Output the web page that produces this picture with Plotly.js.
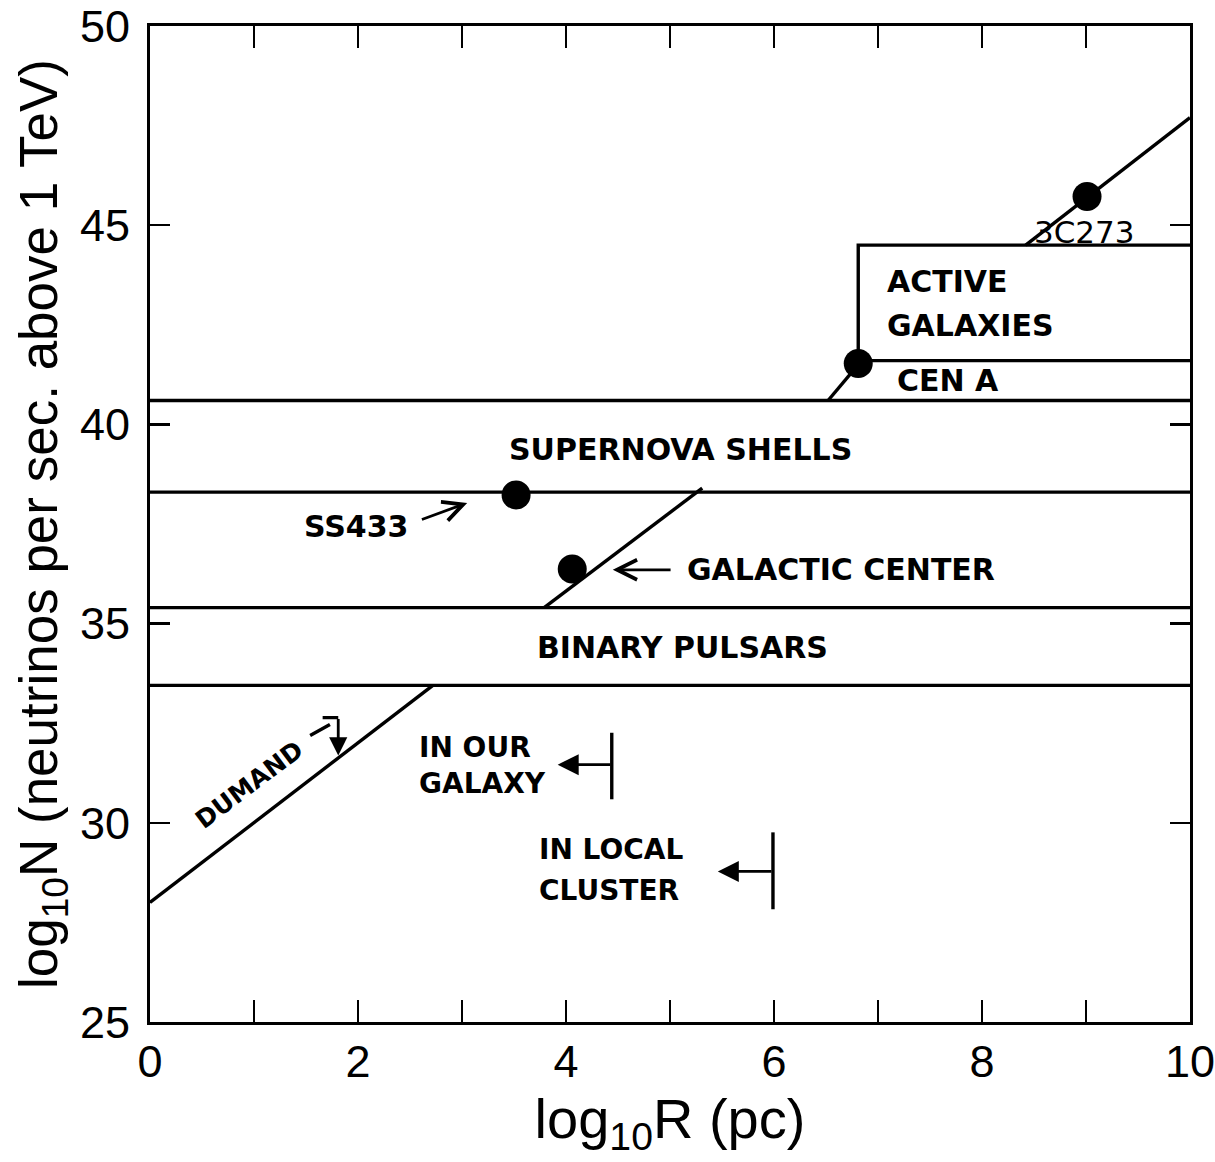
<!DOCTYPE html>
<html>
<head>
<meta charset="utf-8">
<script src="https://cdn.plot.ly/plotly-3.0.1.min.js"></script>
<style>
  html, body { margin: 0; padding: 0; background: #fff; }
  #chart { width: 1215px; height: 1162px; }
</style>
</head>
<body>
<div id="chart"></div>
<script>
// Flux bands (log10 N) that separate the source classes
const bandLevels = [33.45, 35.4, 38.3, 40.6];

// Active-galaxy box (log10 R, log10 N) drawn against the right axis
const agBoxR = [10, 6.81, 6.81, 10];
const agBoxN = [44.5, 44.5, 41.6, 41.6];

// DUMAND sensitivity line, broken where it crosses the labelled bands
const dumandR = [0, 2.72, null, 3.79, 5.31, null, 6.52, 6.82, null, 8.42, 10];
const dumandN = [28.0, 33.45, null, 35.4, 38.4, null, 40.6, 41.53, null, 44.5, 47.7];

// Individual sources
const sourceNames = ["SS433", "Galactic Center", "Cen A", "3C273"];
const sourceR = [3.52, 4.06, 6.81, 9.01];
const sourceN = [38.23, 36.37, 41.53, 45.72];

// Distance limits: our galaxy and the local cluster
const limitLines = [["IN OUR", "GALAXY"], ["IN LOCAL", "CLUSTER"]];
const limitR = [4.44, 5.99];

// Axis ticks
const xTickVals = [0, 2, 4, 6, 8, 10];
const yTickVals = [25, 30, 35, 40, 45, 50];

const INK = "#000";
const LW = 3.4;
const labelFont = { family: "DejaVu Sans, sans-serif", size: 30, color: INK, weight: 700 };
const limitFont = Object.assign({}, labelFont, { size: 28 });

const traces = [];

// horizontal band boundaries
bandLevels.forEach(function (lv) {
  traces.push({
    x: [0, 10], y: [lv, lv], mode: "lines",
    line: { color: INK, width: LW }, hoverinfo: "skip", showlegend: false
  });
});

traces.push({
  x: agBoxR, y: agBoxN, mode: "lines",
  line: { color: INK, width: LW }, hoverinfo: "skip", showlegend: false
});

traces.push({
  x: dumandR, y: dumandN, mode: "lines", connectgaps: false,
  line: { color: INK, width: LW }, hoverinfo: "skip", showlegend: false
});

traces.push({
  x: sourceR, y: sourceN, text: sourceNames, mode: "markers",
  marker: { color: INK, size: 29, line: { width: 0 } },
  hoverinfo: "text", showlegend: false
});

function txt(x, y, text, opts) {
  return Object.assign({
    x: x, y: y, xref: "x", yref: "y", text: text, showarrow: false,
    font: labelFont, xanchor: "left", yanchor: "middle", align: "left"
  }, opts || {});
}

function arrow(xTail, yTail, xHead, yHead, head, size) {
  return {
    x: xHead, y: yHead, ax: xTail, ay: yTail,
    xref: "x", yref: "y", axref: "x", ayref: "y",
    text: "", showarrow: true, arrowhead: head, arrowsize: size,
    arrowwidth: 2.8, arrowcolor: INK, standoff: 0, startstandoff: 0
  };
}

const annotations = [
  txt(7.07, 43.59, "ACTIVE"),
  txt(7.07, 42.48, "GALAXIES"),
  txt(7.16, 41.1, "CEN A"),
  txt(8.48, 44.84, "3C273", { font: Object.assign({}, labelFont, { size: 31, weight: 400 }) }),
  txt(5.1, 39.38, "SUPERNOVA SHELLS", { xanchor: "center" }),
  txt(1.99, 37.43, "SS433", { xanchor: "center" }),
  txt(5.14, 36.35, "GALACTIC CENTER"),
  txt(5.12, 34.39, "BINARY PULSARS", { xanchor: "center" }),
  txt(0.96, 30.95, "DUMAND", { xanchor: "center", textangle: -37, font: Object.assign({}, labelFont, { size: 25 }) }),
  txt(2.57, 31.9, limitLines[0][0], { font: limitFont }),
  txt(2.57, 30.98, limitLines[0][1], { font: limitFont }),
  txt(3.72, 29.33, limitLines[1][0], { font: limitFont }),
  txt(3.72, 28.31, limitLines[1][1], { font: limitFont }),
  // pointers to the sources
  arrow(2.6, 37.6, 3.05, 38.03, 5, 1.4),
  arrow(5.02, 36.35, 4.45, 36.35, 5, 1.4),
  // DUMAND downward pointer
  arrow(1.81, 32.64, 1.81, 31.69, 2, 1.3),
  // limit arrows
  arrow(limitR[0], 31.46, limitR[0] - 0.52, 31.46, 2, 1.5),
  arrow(limitR[1], 28.78, limitR[1] - 0.53, 28.78, 2, 1.5)
];

const shapes = [
  { type: "line", xref: "x", yref: "y", x0: limitR[0], x1: limitR[0], y0: 30.59, y1: 32.26, line: { color: INK, width: LW } },
  { type: "line", xref: "x", yref: "y", x0: limitR[1], x1: limitR[1], y0: 27.83, y1: 29.76, line: { color: INK, width: LW } },
  { type: "path", xref: "x", yref: "y", path: "M1.54,32.19 L1.73,32.47 M1.66,32.64 L1.81,32.64", line: { color: INK, width: LW } }
];

const tickFont = { family: "Liberation Sans, Arial, sans-serif", size: 45, color: INK };

const layout = {
  width: 1215, height: 1162,
  margin: { l: 150, r: 25, t: 26, b: 140 },
  paper_bgcolor: "#fff", plot_bgcolor: "#fff",
  showlegend: false,
  xaxis: {
    range: [0, 10], tickvals: xTickVals, ticklabeloverflow: "allow",
    ticks: "inside", ticklen: 22, tickwidth: 2.5, tickcolor: INK,
    minor: { dtick: 1, tick0: 0, ticks: "inside", ticklen: 22, tickwidth: 2.5, tickcolor: INK, showgrid: false },
    showline: true, linecolor: INK, linewidth: 3, mirror: "allticks",
    showgrid: false, zeroline: false, tickfont: tickFont, ticklabelstandoff: -2,
    title: { text: "log<sub>10</sub>R (pc)", font: { family: "Liberation Sans, Arial, sans-serif", size: 56, color: INK }, standoff: 8 }
  },
  yaxis: {
    range: [25, 50], tickvals: yTickVals, ticklabeloverflow: "allow",
    ticks: "inside", ticklen: 20, tickwidth: 2.5, tickcolor: INK,
    showline: true, linecolor: INK, linewidth: 3, mirror: "allticks",
    showgrid: false, zeroline: false, tickfont: tickFont, ticklabelstandoff: 8,
    title: { text: "log<sub>10</sub>N (neutrinos per sec. above 1 TeV)", font: { family: "Liberation Sans, Arial, sans-serif", size: 53, color: INK }, standoff: 6 }
  },
  annotations: annotations,
  shapes: shapes
};

Plotly.newPlot("chart", traces, layout, { staticPlot: true, displayModeBar: false });
</script>
</body>
</html>
